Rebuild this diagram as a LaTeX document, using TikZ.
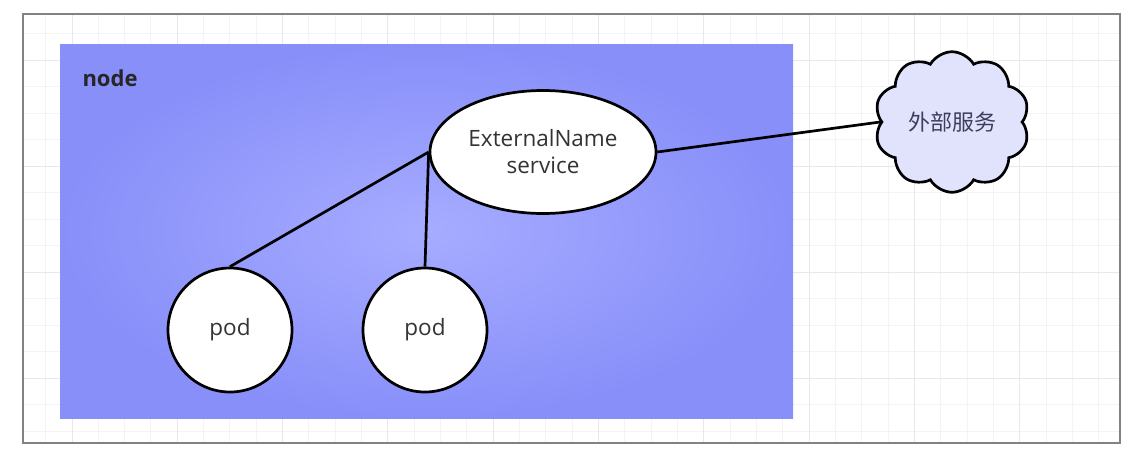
\documentclass[tikz,border=0pt]{standalone}
\usepackage{fontspec}
\setmainfont{Open Sans}
\newfontfamily\cjk{Noto Sans CJK SC}
\usepackage{tikz}
\usetikzlibrary{shapes.geometric,shapes.symbols}

\definecolor{gridminor}{RGB}{244,244,246}
\definecolor{gridmajor}{RGB}{232,232,236}
\definecolor{frameline}{RGB}{128,130,134}
\definecolor{nodeedge}{RGB}{136,143,249}
\definecolor{nodemid}{RGB}{166,172,255}
\definecolor{cloudfill}{RGB}{225,226,252}
\definecolor{txt}{RGB}{51,51,51}
\definecolor{cloudtxt}{RGB}{62,62,92}

\begin{document}
\begin{tikzpicture}[x=1pt, y=-1pt,
    link/.style={line width=2.7pt, black},
    pod/.style={circle, draw=black, line width=2.7pt, fill=white,
        minimum size=124pt, inner sep=0pt, text=txt,
        font=\fontsize{22.5}{27}\selectfont},
    svc/.style={ellipse, draw=black, line width=2.7pt, fill=white,
        minimum width=226pt, minimum height=123pt, inner sep=0pt,
        align=center, text=txt, font=\fontsize{22.5}{27}\selectfont},
    extern/.style={cloud, cloud puffs=10, cloud puff arc=120, draw=black,
        line width=2.7pt, fill=cloudfill, minimum width=155pt,
        minimum height=123pt, inner sep=0pt, text=cloudtxt,
        font=\cjk\fontsize{22}{26}\selectfont}]
    \useasboundingbox (0,0) rectangle (1142,453);

    % Grid inside the frame
    \begin{scope}
        \clip (23,14) rectangle (1120,443);
        \foreach \i in {0,...,40}
            \draw[gridminor, line width=1pt] ({45.67+\i*26.33},14) -- ++(0,429);
        \foreach \j in {0,...,15}
            \draw[gridminor, line width=1pt] (23,{33.5+\j*26.5}) -- ++(1097,0);
        \foreach \i in {0,...,10}
            \draw[gridmajor, line width=1pt] ({72+\i*105.33},14) -- ++(0,429);
        \foreach \j in {0,...,3}
            \draw[gridmajor, line width=1pt] (23,{60+\j*106}) -- ++(1097,0);
    \end{scope}
    \draw[frameline, line width=1.5pt] (23,14) rectangle (1120,443);

    % Shaded node region
    \shade[inner color=nodemid, outer color=nodeedge] (60,44) rectangle (793,418);
    \node[anchor=base west, text=black!85, font=\bfseries\fontsize{22}{26}\selectfont]
        (nodelbl) at (79,86) {node};

    % Service, pods and outside service
    \node[svc] (svc) at (543,152) {ExternalName\\service};
    \node[pod] (pod1) at (230,330) {pod};
    \node[pod] (pod2) at (425,330) {pod};
    \node[extern] (ext) at (952,122) {外部服务};

    % Links
    \draw[link] (pod1.north) -- (svc.west);
    \draw[link] (pod2.north) -- (svc.west);
    \draw[link] (svc.east) -- (ext.west);
\end{tikzpicture}
\end{document}
